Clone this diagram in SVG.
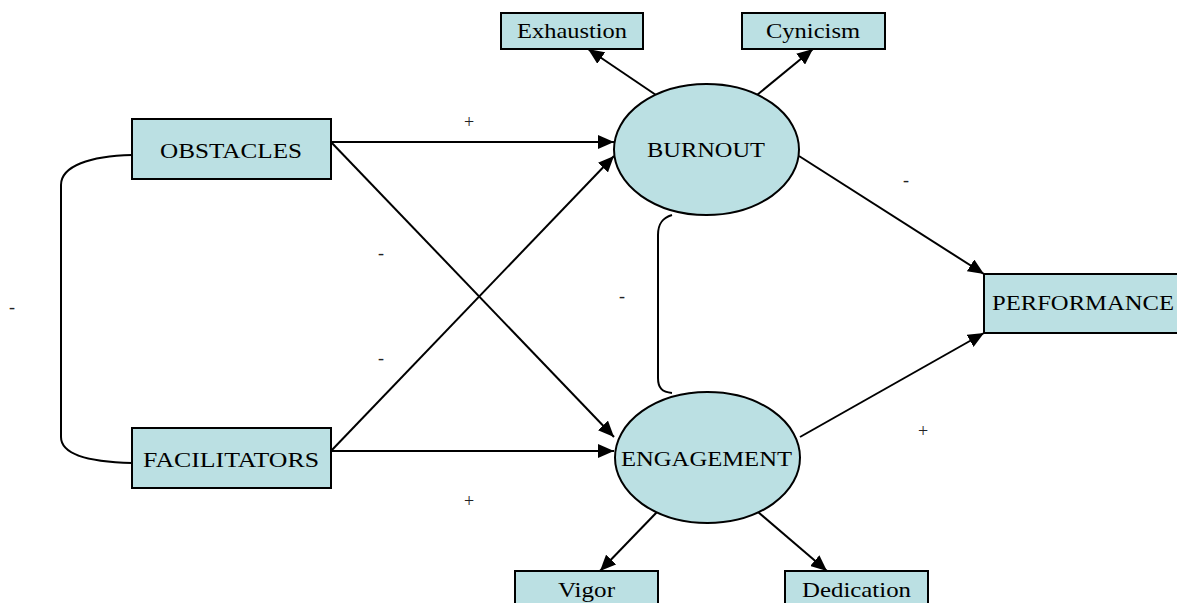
<svg xmlns="http://www.w3.org/2000/svg" width="1177" height="603" viewBox="0 0 1177 603">
  <style>
    .box { fill: #bbe0e3; stroke: #000; stroke-width: 2; }
    .ell { fill: #bbe0e3; stroke: #000; stroke-width: 2; }
    .lbl { font-family: "Liberation Serif", "Times New Roman", serif; font-size: 22px; fill: #000; }
    .sign { font-family: "Liberation Serif", "Times New Roman", serif; font-size: 18px; fill: #222; text-anchor: middle; }
    .edge { fill: none; stroke: #000; stroke-width: 2; }
    .arrow { marker-end: url(#head); }
  </style>
  <defs>
    <marker id="head" markerUnits="userSpaceOnUse" markerWidth="17" markerHeight="14" refX="16" refY="7" orient="auto">
      <path d="M0,0 L16,7 L0,14 z" fill="#000"/>
    </marker>
  </defs>
  <rect width="1177" height="603" fill="#fff"/>

  <g id="connectors">
    <!-- predictors to latent factors -->
    <line class="edge arrow" x1="331" y1="142" x2="614" y2="142"/>
    <line class="edge arrow" x1="331" y1="142" x2="614" y2="437"/>
    <line class="edge arrow" x1="331" y1="451" x2="614" y2="156"/>
    <line class="edge arrow" x1="331" y1="451" x2="614" y2="451"/>
    <!-- latent factors to indicators -->
    <line class="edge arrow" x1="656" y1="95" x2="588" y2="49"/>
    <line class="edge arrow" x1="757" y1="95" x2="813" y2="49"/>
    <line class="edge arrow" x1="657" y1="512" x2="600" y2="571"/>
    <line class="edge arrow" x1="758" y1="512" x2="827" y2="571"/>
    <!-- latent factors to performance -->
    <line class="edge arrow" x1="799" y1="156" x2="984" y2="274"/>
    <line class="edge arrow" x1="800" y1="437" x2="984" y2="333"/>
    <!-- correlations -->
    <path class="edge" d="M132,155 C90,156 61,166 61,185 L61,437 C61,455 90,462 132,463"/>
    <path class="edge" d="M672,215 C662,218 658,224 658,235 L658,378 C658,388 662,392 672,393"/>
  </g>

  <g id="signs">
    <text class="sign" x="469" y="128">+</text>
    <text class="sign" x="381" y="259">-</text>
    <text class="sign" x="381" y="364">-</text>
    <text class="sign" x="12" y="313">-</text>
    <text class="sign" x="622" y="302">-</text>
    <text class="sign" x="906" y="186">-</text>
    <text class="sign" x="923" y="437">+</text>
    <text class="sign" x="469" y="507">+</text>
  </g>

  <g id="obstacles">
    <rect class="box" x="132" y="119" width="199" height="60"/>
    <text class="lbl" x="160" y="157.5" textLength="142" lengthAdjust="spacingAndGlyphs">OBSTACLES</text>
  </g>
  <g id="facilitators">
    <rect class="box" x="132" y="428" width="199" height="60"/>
    <text class="lbl" x="143" y="466.5" textLength="176" lengthAdjust="spacingAndGlyphs">FACILITATORS</text>
  </g>
  <g id="burnout">
    <ellipse class="ell" cx="706.5" cy="149.5" rx="92.5" ry="65.5"/>
    <text class="lbl" x="647" y="157.3" textLength="118" lengthAdjust="spacingAndGlyphs">BURNOUT</text>
  </g>
  <g id="engagement">
    <ellipse class="ell" cx="707.5" cy="457.5" rx="92.5" ry="65.5"/>
    <text class="lbl" x="621" y="466" textLength="171" lengthAdjust="spacingAndGlyphs">ENGAGEMENT</text>
  </g>
  <g id="performance">
    <rect class="box" x="984" y="274" width="200" height="59"/>
    <text class="lbl" x="992" y="310" textLength="182" lengthAdjust="spacingAndGlyphs">PERFORMANCE</text>
  </g>
  <g id="exhaustion">
    <rect class="box" x="501" y="13" width="142" height="36"/>
    <text class="lbl" x="517" y="37.7" textLength="110" lengthAdjust="spacingAndGlyphs">Exhaustion</text>
  </g>
  <g id="cynicism">
    <rect class="box" x="742" y="13" width="143" height="36"/>
    <text class="lbl" x="766" y="37.7" textLength="94" lengthAdjust="spacingAndGlyphs">Cynicism</text>
  </g>
  <g id="vigor">
    <rect class="box" x="515" y="571" width="143" height="40"/>
    <text class="lbl" x="558" y="596.7" textLength="57" lengthAdjust="spacingAndGlyphs">Vigor</text>
  </g>
  <g id="dedication">
    <rect class="box" x="785" y="571" width="143" height="40"/>
    <text class="lbl" x="802" y="596.7" textLength="109" lengthAdjust="spacingAndGlyphs">Dedication</text>
  </g>
</svg>
